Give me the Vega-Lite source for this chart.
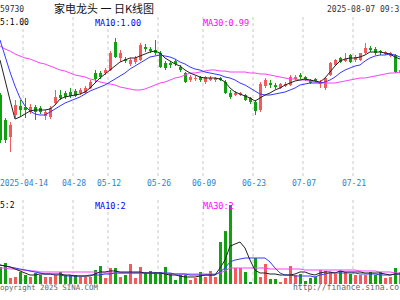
{
"$schema": "https://vega.github.io/schema/vega-lite/v6.json",
"width": 400, "height": 300,
"autosize": {"type": "none"},
"padding": 0,
"background": "#ffffff",
"config": {"view": {"stroke": null}},
"datasets": {
"ticks": [
{"d":"2025-04-14","lab":"2025-04-14"},{"d":"2025-04-28","lab":"04-28"},{"d":"2025-05-12","lab":"05-12"},{"d":"2025-05-26","lab":"05-26"},
{"d":"2025-06-09","lab":"06-09"},{"d":"2025-06-23","lab":"06-23"},{"d":"2025-07-07","lab":"07-07"},{"d":"2025-07-21","lab":"07-21"}
],
"daily": [
{"d":"2025-04-07","o":0.981,"h":0.982,"l":0.957,"c":0.9585,"v":4.05,"m5":0.9985,"m10":1.0085,"m30":1.0055,"vm5":4.52,"vm10":4.52,"vm30":3.81},
{"d":"2025-04-08","o":0.9685,"h":0.9695,"l":0.957,"c":0.9585,"v":5.0,"m5":0.9885,"m10":1.0005,"m30":1.004,"vm5":4.29,"vm10":4.29,"vm30":3.81},
{"d":"2025-04-09","o":0.960,"h":0.9675,"l":0.9525,"c":0.966,"v":1.43,"m5":0.9785,"m10":0.9925,"m30":1.003,"vm5":4.05,"vm10":4.05,"vm30":3.57},
{"d":"2025-04-10","o":0.971,"h":0.9785,"l":0.9695,"c":0.976,"v":1.67,"m5":0.969,"m10":0.9855,"m30":1.0015,"vm5":3.57,"vm10":3.81,"vm30":3.57},
{"d":"2025-04-11","o":0.9755,"h":0.9785,"l":0.970,"c":0.9735,"v":2.86,"m5":0.970,"m10":0.9795,"m30":1.0005,"vm5":3.10,"vm10":3.57,"vm30":3.33},
{"d":"2025-04-14","o":0.975,"h":0.9795,"l":0.9695,"c":0.9735,"v":2.14,"m5":0.9715,"m10":0.9755,"m30":0.9995,"vm5":2.62,"vm10":3.33,"vm30":3.33},
{"d":"2025-04-15","o":0.9725,"h":0.9765,"l":0.9715,"c":0.975,"v":1.67,"m5":0.973,"m10":0.973,"m30":0.999,"vm5":2.14,"vm10":3.10,"vm30":3.10},
{"d":"2025-04-16","o":0.975,"h":0.976,"l":0.9685,"c":0.9725,"v":2.62,"m5":0.9735,"m10":0.9715,"m30":0.998,"vm5":2.14,"vm10":2.86,"vm30":3.10},
{"d":"2025-04-17","o":0.9745,"h":0.9755,"l":0.9715,"c":0.9725,"v":2.14,"m5":0.9735,"m10":0.971,"m30":0.997,"vm5":2.38,"vm10":2.62,"vm30":2.86},
{"d":"2025-04-18","o":0.9705,"h":0.9735,"l":0.9685,"c":0.9725,"v":1.67,"m5":0.9735,"m10":0.971,"m30":0.9965,"vm5":2.38,"vm10":2.38,"vm30":2.86},
{"d":"2025-04-21","o":0.970,"h":0.9755,"l":0.969,"c":0.9745,"v":1.67,"m5":0.974,"m10":0.9725,"m30":0.9955,"vm5":2.38,"vm10":2.38,"vm30":2.86},
{"d":"2025-04-22","o":0.977,"h":0.9835,"l":0.976,"c":0.980,"v":2.14,"m5":0.976,"m10":0.974,"m30":0.9945,"vm5":2.38,"vm10":2.14,"vm30":2.86},
{"d":"2025-04-23","o":0.981,"h":0.9835,"l":0.9785,"c":0.9795,"v":2.86,"m5":0.979,"m10":0.9755,"m30":0.9935,"vm5":2.38,"vm10":2.14,"vm30":2.86},
{"d":"2025-04-24","o":0.982,"h":0.983,"l":0.979,"c":0.980,"v":2.14,"m5":0.980,"m10":0.977,"m30":0.993,"vm5":2.14,"vm10":1.90,"vm30":2.86},
{"d":"2025-04-25","o":0.9825,"h":0.9845,"l":0.9795,"c":0.9805,"v":2.14,"m5":0.9805,"m10":0.978,"m30":0.992,"vm5":2.14,"vm10":1.90,"vm30":2.86},
{"d":"2025-04-28","o":0.983,"h":0.984,"l":0.980,"c":0.9805,"v":2.14,"m5":0.981,"m10":0.979,"m30":0.991,"vm5":1.90,"vm10":1.90,"vm30":2.86},
{"d":"2025-04-29","o":0.982,"h":0.9845,"l":0.981,"c":0.9835,"v":1.67,"m5":0.9815,"m10":0.980,"m30":0.9905,"vm5":1.90,"vm10":1.90,"vm30":2.86},
{"d":"2025-04-30","o":0.982,"h":0.9855,"l":0.9815,"c":0.9845,"v":1.67,"m5":0.9825,"m10":0.9815,"m30":0.990,"vm5":1.90,"vm10":1.90,"vm30":2.86},
{"d":"2025-05-06","o":0.9845,"h":0.9885,"l":0.984,"c":0.9875,"v":1.67,"m5":0.9845,"m10":0.983,"m30":0.989,"vm5":1.90,"vm10":2.14,"vm30":2.86},
{"d":"2025-05-07","o":0.992,"h":0.9935,"l":0.9875,"c":0.989,"v":3.33,"m5":0.987,"m10":0.984,"m30":0.9885,"vm5":2.38,"vm10":2.14,"vm30":2.86},
{"d":"2025-05-08","o":0.992,"h":0.993,"l":0.989,"c":0.990,"v":4.29,"m5":0.9895,"m10":0.985,"m30":0.9875,"vm5":2.86,"vm10":2.14,"vm30":2.62},
{"d":"2025-05-09","o":0.992,"h":0.9945,"l":0.991,"c":0.9935,"v":1.43,"m5":0.9915,"m10":0.986,"m30":0.987,"vm5":2.86,"vm10":2.38,"vm30":2.62},
{"d":"2025-05-12","o":0.9935,"h":1.003,"l":0.993,"c":1.002,"v":3.81,"m5":0.9935,"m10":0.9875,"m30":0.9865,"vm5":3.10,"vm10":2.38,"vm30":2.62},
{"d":"2025-05-13","o":1.0075,"h":1.0095,"l":0.9995,"c":1.000,"v":3.81,"m5":0.9955,"m10":0.989,"m30":0.986,"vm5":3.10,"vm10":2.62,"vm30":2.62},
{"d":"2025-05-14","o":0.9995,"h":1.0035,"l":0.9975,"c":1.002,"v":1.67,"m5":0.9975,"m10":0.9905,"m30":0.985,"vm5":2.86,"vm10":2.62,"vm30":2.62},
{"d":"2025-05-15","o":0.999,"h":1.000,"l":0.997,"c":0.998,"v":2.14,"m5":0.9985,"m10":0.992,"m30":0.9845,"vm5":2.86,"vm10":2.62,"vm30":2.62},
{"d":"2025-05-16","o":0.9965,"h":0.9995,"l":0.9955,"c":0.9985,"v":4.76,"m5":0.9995,"m10":0.994,"m30":0.984,"vm5":2.86,"vm10":2.62,"vm30":2.62},
{"d":"2025-05-19","o":0.9975,"h":1.0005,"l":0.9965,"c":0.9995,"v":1.43,"m5":0.9995,"m10":0.9955,"m30":0.9835,"vm5":2.86,"vm10":2.62,"vm30":2.62},
{"d":"2025-05-20","o":0.9985,"h":1.007,"l":0.998,"c":1.006,"v":4.05,"m5":1.0005,"m10":0.997,"m30":0.9835,"vm5":2.86,"vm10":2.62,"vm30":2.62},
{"d":"2025-05-21","o":1.005,"h":1.0065,"l":1.0025,"c":1.004,"v":2.62,"m5":1.0015,"m10":0.9985,"m30":0.984,"vm5":2.62,"vm10":2.62,"vm30":2.62},
{"d":"2025-05-22","o":1.004,"h":1.005,"l":1.002,"c":1.003,"v":3.10,"m5":1.0025,"m10":1.000,"m30":0.985,"vm5":2.62,"vm10":2.62,"vm30":2.62},
{"d":"2025-05-23","o":1.0035,"h":1.0085,"l":1.001,"c":1.002,"v":2.86,"m5":1.003,"m10":1.0005,"m30":0.986,"vm5":2.62,"vm10":2.62,"vm30":2.62},
{"d":"2025-05-26","o":1.002,"h":1.003,"l":0.9945,"c":0.995,"v":2.86,"m5":1.002,"m10":1.001,"m30":0.987,"vm5":2.62,"vm10":2.62,"vm30":2.62},
{"d":"2025-05-27","o":0.997,"h":0.998,"l":0.9935,"c":0.9945,"v":4.05,"m5":0.9995,"m10":1.0005,"m30":0.9875,"vm5":2.38,"vm10":2.62,"vm30":2.62},
{"d":"2025-05-28","o":0.997,"h":0.998,"l":0.9945,"c":0.996,"v":2.62,"m5":0.998,"m10":1.000,"m30":0.9885,"vm5":2.14,"vm10":2.62,"vm30":2.38},
{"d":"2025-05-29","o":0.998,"h":0.999,"l":0.9955,"c":0.9965,"v":0.95,"m5":0.9965,"m10":0.999,"m30":0.9895,"vm5":2.14,"vm10":2.38,"vm30":2.38},
{"d":"2025-05-30","o":0.995,"h":0.996,"l":0.9925,"c":0.9935,"v":2.14,"m5":0.9955,"m10":0.9975,"m30":0.990,"vm5":1.90,"vm10":2.38,"vm30":2.38},
{"d":"2025-06-03","o":0.992,"h":0.9925,"l":0.987,"c":0.9875,"v":2.14,"m5":0.9935,"m10":0.9965,"m30":0.991,"vm5":1.67,"vm10":2.38,"vm30":2.38},
{"d":"2025-06-04","o":0.9885,"h":0.991,"l":0.9875,"c":0.990,"v":0.95,"m5":0.992,"m10":0.995,"m30":0.992,"vm5":1.67,"vm10":2.14,"vm30":2.38},
{"d":"2025-06-05","o":0.989,"h":0.9905,"l":0.988,"c":0.9895,"v":1.43,"m5":0.991,"m10":0.994,"m30":0.992,"vm5":1.67,"vm10":2.14,"vm30":2.38},
{"d":"2025-06-06","o":0.990,"h":0.9905,"l":0.9875,"c":0.9885,"v":2.86,"m5":0.990,"m10":0.9935,"m30":0.9925,"vm5":1.90,"vm10":2.14,"vm30":2.38},
{"d":"2025-06-09","o":0.9875,"h":0.9905,"l":0.9865,"c":0.990,"v":1.67,"m5":0.9895,"m10":0.9925,"m30":0.993,"vm5":2.14,"vm10":2.14,"vm30":2.38},
{"d":"2025-06-10","o":0.9885,"h":0.9905,"l":0.988,"c":0.9895,"v":3.10,"m5":0.9895,"m10":0.992,"m30":0.9935,"vm5":2.14,"vm10":2.14,"vm30":2.38},
{"d":"2025-06-11","o":0.9885,"h":0.990,"l":0.9875,"c":0.9895,"v":1.67,"m5":0.9895,"m10":0.9915,"m30":0.9935,"vm5":2.14,"vm10":2.14,"vm30":2.38},
{"d":"2025-06-12","o":0.9895,"h":0.990,"l":0.988,"c":0.9885,"v":10.0,"m5":0.989,"m10":0.991,"m30":0.993,"vm5":3.81,"vm10":2.86,"vm30":2.62},
{"d":"2025-06-13","o":0.9875,"h":0.9885,"l":0.9815,"c":0.982,"v":12.6,"m5":0.9875,"m10":0.990,"m30":0.993,"vm5":5.71,"vm10":3.81,"vm30":3.10},
{"d":"2025-06-16","o":0.982,"h":0.9835,"l":0.979,"c":0.980,"v":18.8,"m5":0.9845,"m10":0.9895,"m30":0.9925,"vm5":9.0,"vm10":5.24,"vm30":3.81},
{"d":"2025-06-17","o":0.981,"h":0.983,"l":0.9805,"c":0.982,"v":3.81,"m5":0.9825,"m10":0.9885,"m30":0.9925,"vm5":9.52,"vm10":5.71,"vm30":3.81},
{"d":"2025-06-18","o":0.981,"h":0.9825,"l":0.9805,"c":0.982,"v":3.81,"m5":0.9815,"m10":0.987,"m30":0.9925,"vm5":10.0,"vm10":5.95,"vm30":3.81},
{"d":"2025-06-19","o":0.981,"h":0.9815,"l":0.978,"c":0.9785,"v":2.86,"m5":0.9805,"m10":0.986,"m30":0.9925,"vm5":8.57,"vm10":6.19,"vm30":3.81},
{"d":"2025-06-20","o":0.9795,"h":0.980,"l":0.9765,"c":0.9775,"v":0.48,"m5":0.9795,"m10":0.9845,"m30":0.992,"vm5":5.7,"vm10":6.19,"vm30":3.81},
{"d":"2025-06-23","o":0.9775,"h":0.9785,"l":0.971,"c":0.973,"v":6.19,"m5":0.978,"m10":0.983,"m30":0.992,"vm5":3.3,"vm10":6.19,"vm30":3.81},
{"d":"2025-06-24","o":0.9735,"h":0.9875,"l":0.9725,"c":0.9865,"v":1.67,"m5":0.9795,"m10":0.9815,"m30":0.9915,"vm5":2.62,"vm10":6.19,"vm30":3.81},
{"d":"2025-06-25","o":0.9855,"h":0.9895,"l":0.9845,"c":0.9885,"v":4.76,"m5":0.981,"m10":0.981,"m30":0.9915,"vm5":2.62,"vm10":6.19,"vm30":3.81},
{"d":"2025-06-26","o":0.987,"h":0.9885,"l":0.9845,"c":0.986,"v":1.19,"m5":0.982,"m10":0.981,"m30":0.991,"vm5":2.38,"vm10":5.24,"vm30":3.57},
{"d":"2025-06-27","o":0.986,"h":0.987,"l":0.984,"c":0.985,"v":1.19,"m5":0.9835,"m10":0.9815,"m30":0.9905,"vm5":2.38,"vm10":3.81,"vm30":3.57},
{"d":"2025-06-30","o":0.9845,"h":0.987,"l":0.984,"c":0.9865,"v":0.48,"m5":0.9845,"m10":0.982,"m30":0.990,"vm5":2.14,"vm10":2.62,"vm30":3.57},
{"d":"2025-07-01","o":0.9855,"h":0.9875,"l":0.985,"c":0.9865,"v":1.43,"m5":0.986,"m10":0.9825,"m30":0.9895,"vm5":2.14,"vm10":2.14,"vm30":3.57},
{"d":"2025-07-02","o":0.986,"h":0.991,"l":0.9855,"c":0.990,"v":4.29,"m5":0.987,"m10":0.9835,"m30":0.989,"vm5":2.14,"vm10":2.14,"vm30":3.57},
{"d":"2025-07-03","o":0.989,"h":0.991,"l":0.9885,"c":0.990,"v":2.14,"m5":0.988,"m10":0.9845,"m30":0.989,"vm5":2.38,"vm10":1.90,"vm30":3.57},
{"d":"2025-07-04","o":0.991,"h":0.992,"l":0.989,"c":0.990,"v":2.38,"m5":0.9885,"m10":0.986,"m30":0.9885,"vm5":2.86,"vm10":1.90,"vm30":3.57},
{"d":"2025-07-07","o":0.990,"h":0.9905,"l":0.988,"c":0.9885,"v":0.71,"m5":0.989,"m10":0.9865,"m30":0.9885,"vm5":2.86,"vm10":1.90,"vm30":3.33},
{"d":"2025-07-08","o":0.9885,"h":0.989,"l":0.9865,"c":0.987,"v":1.43,"m5":0.9885,"m10":0.987,"m30":0.988,"vm5":2.38,"vm10":1.90,"vm30":3.33},
{"d":"2025-07-09","o":0.989,"h":0.9895,"l":0.9875,"c":0.988,"v":1.67,"m5":0.988,"m10":0.987,"m30":0.9875,"vm5":2.14,"vm10":1.67,"vm30":3.33},
{"d":"2025-07-10","o":0.9865,"h":0.9885,"l":0.9845,"c":0.9875,"v":3.33,"m5":0.9875,"m10":0.987,"m30":0.987,"vm5":2.62,"vm10":2.14,"vm30":3.33},
{"d":"2025-07-11","o":0.9845,"h":0.990,"l":0.9835,"c":0.9895,"v":3.10,"m5":0.9895,"m10":0.9875,"m30":0.987,"vm5":2.86,"vm10":2.38,"vm30":3.33},
{"d":"2025-07-14","o":0.991,"h":0.9975,"l":0.9905,"c":0.997,"v":2.86,"m5":0.9925,"m10":0.9885,"m30":0.987,"vm5":2.86,"vm10":2.62,"vm30":3.33},
{"d":"2025-07-15","o":0.996,"h":0.999,"l":0.9955,"c":0.9985,"v":2.38,"m5":0.9955,"m10":0.990,"m30":0.987,"vm5":2.62,"vm10":2.62,"vm30":3.33},
{"d":"2025-07-16","o":0.9995,"h":1.000,"l":0.997,"c":0.9975,"v":3.10,"m5":0.998,"m10":0.992,"m30":0.9875,"vm5":3.10,"vm10":2.62,"vm30":3.33},
{"d":"2025-07-17","o":0.998,"h":1.002,"l":0.9975,"c":0.999,"v":2.86,"m5":0.999,"m10":0.9935,"m30":0.988,"vm5":2.86,"vm10":2.62,"vm30":3.33},
{"d":"2025-07-18","o":1.001,"h":1.0015,"l":0.997,"c":0.9975,"v":2.38,"m5":0.9995,"m10":0.9945,"m30":0.9885,"vm5":2.86,"vm10":2.62,"vm30":3.33},
{"d":"2025-07-21","o":0.9985,"h":1.001,"l":0.9975,"c":1.000,"v":2.14,"m5":0.9995,"m10":0.9955,"m30":0.989,"vm5":2.86,"vm10":2.62,"vm30":3.33},
{"d":"2025-07-22","o":0.9985,"h":1.002,"l":0.998,"c":1.002,"v":2.14,"m5":1.000,"m10":0.996,"m30":0.9895,"vm5":2.86,"vm10":2.38,"vm30":3.10},
{"d":"2025-07-23","o":1.002,"h":1.007,"l":1.0015,"c":1.0045,"v":2.14,"m5":1.001,"m10":0.998,"m30":0.9895,"vm5":2.62,"vm10":2.38,"vm30":3.10},
{"d":"2025-07-24","o":1.0045,"h":1.0055,"l":1.0025,"c":1.0035,"v":2.86,"m5":1.0025,"m10":0.9995,"m30":0.990,"vm5":2.62,"vm10":2.38,"vm30":3.10},
{"d":"2025-07-25","o":1.004,"h":1.005,"l":1.001,"c":1.002,"v":2.14,"m5":1.0025,"m10":1.0005,"m30":0.9905,"vm5":2.62,"vm10":2.38,"vm30":3.10},
{"d":"2025-07-28","o":1.003,"h":1.0035,"l":1.001,"c":1.0025,"v":2.86,"m5":1.0025,"m10":1.001,"m30":0.991,"vm5":2.62,"vm10":2.14,"vm30":2.86},
{"d":"2025-07-29","o":1.0015,"h":1.003,"l":1.001,"c":1.0025,"v":1.43,"m5":1.002,"m10":1.001,"m30":0.9915,"vm5":2.38,"vm10":2.14,"vm30":2.86},
{"d":"2025-07-30","o":1.0005,"h":1.0025,"l":1.000,"c":1.002,"v":1.67,"m5":1.0015,"m10":1.0015,"m30":0.992,"vm5":2.14,"vm10":2.14,"vm30":2.86},
{"d":"2025-07-31","o":1.001,"h":1.0015,"l":0.992,"c":0.9925,"v":3.81,"m5":1.000,"m10":1.001,"m30":0.992,"vm5":2.38,"vm10":2.38,"vm30":2.62},
{"d":"2025-08-01","o":0.992,"h":0.9945,"l":0.9915,"c":0.9935,"v":2.86,"m5":0.999,"m10":1.000,"m30":0.9925,"vm5":2.38,"vm10":2.38,"vm30":2.62}
]},
"data": {"name": "daily"},
"resolve": {"scale": {"y": "independent"}},
"layer": [
{
"layer": [
{"data": {"name": "ticks"},
 "mark": {"type": "rule", "color": "#c8c8c8", "strokeDash": [3, 3], "xOffset": -2},
 "encoding": {
  "x": {"field": "d", "type": "ordinal", "scale": {"type": "point", "padding": 0}, "axis": null},
  "y": {"datum": 1.02, "type": "quantitative", "scale": {"domain": [0.8785, 1.0285], "nice": false, "zero": false},
        "axis": {"values": [0.94, 0.96, 0.98, 1.0, 1.02], "labels": false, "ticks": false, "domain": false, "title": null, "grid": true,
                 "gridColor": {"condition": {"test": "datum.value > 1.019 || datum.value < 0.941", "value": "#b4b4b4"}, "value": "#cccccc"},
                 "gridDash": {"condition": {"test": "datum.value > 1.019 || datum.value < 0.941", "value": []}, "value": [2, 2]}}},
  "y2": {"datum": 0.94}
 }},
{"data": {"name": "ticks"},
 "mark": {"type": "text", "align": "center", "baseline": "middle", "dx": -1, "font": "DejaVu Sans Mono", "fontSize": 8, "color": "#2a82d8"},
 "encoding": {
  "x": {"field": "d", "type": "ordinal", "scale": {"type": "point", "padding": 0}, "axis": null},
  "y": {"datum": 0.9365, "type": "quantitative", "scale": {"domain": [0.8785, 1.0285], "nice": false, "zero": false}, "axis": null},
  "text": {"field": "lab"}
 }},
{"mark": {"type": "rule", "xOffset": 0.5},
 "encoding": {
  "x": {"field": "d", "type": "ordinal", "scale": {"type": "point", "padding": 0}, "axis": null},
  "y": {"field": "l", "type": "quantitative", "scale": {"domain": [0.8785, 1.0285], "nice": false, "zero": false}, "axis": null},
  "y2": {"field": "h"},
  "color": {"condition": {"test": "datum.c >= datum.o", "value": "#f55a5a"}, "value": "#10a010"}
 }},
{"mark": {"type": "bar", "width": 3, "xOffset": 0.5},
 "encoding": {
  "x": {"field": "d", "type": "ordinal", "scale": {"type": "point", "padding": 0}, "axis": null},
  "y": {"field": "o", "type": "quantitative", "scale": {"domain": [0.8785, 1.0285], "nice": false, "zero": false}, "axis": null},
  "y2": {"field": "c"},
  "color": {"condition": {"test": "datum.c >= datum.o", "value": "#f55a5a"}, "value": "#10a010"}
 }},
{"mark": {"type": "line", "color": "#ff40ff", "strokeWidth": 1},
 "encoding": {
  "x": {"field": "d", "type": "ordinal", "scale": {"type": "point", "padding": 0}, "axis": null},
  "y": {"field": "m30", "type": "quantitative", "scale": {"domain": [0.8785, 1.0285], "nice": false, "zero": false}, "axis": null}
 }},
{"mark": {"type": "line", "color": "#3838ff", "strokeWidth": 1},
 "encoding": {
  "x": {"field": "d", "type": "ordinal", "scale": {"type": "point", "padding": 0}, "axis": null},
  "y": {"field": "m10", "type": "quantitative", "scale": {"domain": [0.8785, 1.0285], "nice": false, "zero": false}, "axis": null}
 }},
{"mark": {"type": "line", "color": "#222222", "strokeWidth": 1},
 "encoding": {
  "x": {"field": "d", "type": "ordinal", "scale": {"type": "point", "padding": 0}, "axis": null},
  "y": {"field": "m5", "type": "quantitative", "scale": {"domain": [0.8785, 1.0285], "nice": false, "zero": false}, "axis": null}
 }},
{"data": {"values": [{}]},
 "mark": {"type": "text", "text": "59730", "align": "left", "baseline": "middle", "font": "DejaVu Sans Mono", "fontSize": 8, "color": "#333333"},
 "encoding": {"x": {"datum": "2025-04-07", "type": "ordinal", "scale": {"type": "point", "padding": 0}, "axis": null},
              "y": {"datum": 1.0235, "type": "quantitative", "scale": {"domain": [0.8785, 1.0285], "nice": false, "zero": false}, "axis": null}}},
{"data": {"values": [{}]},
 "mark": {"type": "text", "text": "家电龙头 一 日K线图", "align": "center", "baseline": "middle", "dx": -1, "font": "Noto Sans CJK SC", "fontSize": 11, "color": "#111111"},
 "encoding": {"x": {"datum": "2025-05-09", "type": "ordinal", "scale": {"type": "point", "padding": 0}, "axis": null},
              "y": {"datum": 1.0235, "type": "quantitative", "scale": {"domain": [0.8785, 1.0285], "nice": false, "zero": false}, "axis": null}}},
{"data": {"values": [{}]},
 "mark": {"type": "text", "text": "2025-08-07 09:3", "align": "left", "baseline": "middle", "dx": -3, "font": "DejaVu Sans Mono", "fontSize": 8, "color": "#333333"},
 "encoding": {"x": {"datum": "2025-07-14", "type": "ordinal", "scale": {"type": "point", "padding": 0}, "axis": null},
              "y": {"datum": 1.0235, "type": "quantitative", "scale": {"domain": [0.8785, 1.0285], "nice": false, "zero": false}, "axis": null}}},
{"data": {"values": [{}]},
 "mark": {"type": "text", "text": "5:1.00", "align": "left", "baseline": "middle", "font": "DejaVu Sans Mono", "fontSize": 8, "color": "#000000"},
 "encoding": {"x": {"datum": "2025-04-07", "type": "ordinal", "scale": {"type": "point", "padding": 0}, "axis": null},
              "y": {"datum": 1.017, "type": "quantitative", "scale": {"domain": [0.8785, 1.0285], "nice": false, "zero": false}, "axis": null}}},
{"data": {"values": [{}]},
 "mark": {"type": "text", "text": "MA10:1.00", "align": "left", "baseline": "middle", "font": "DejaVu Sans Mono", "fontSize": 8.5, "color": "#0000ff"},
 "encoding": {"x": {"datum": "2025-05-07", "type": "ordinal", "scale": {"type": "point", "padding": 0}, "axis": null},
              "y": {"datum": 1.017, "type": "quantitative", "scale": {"domain": [0.8785, 1.0285], "nice": false, "zero": false}, "axis": null}}},
{"data": {"values": [{}]},
 "mark": {"type": "text", "text": "MA30:0.99", "align": "left", "baseline": "middle", "dx": -2, "font": "DejaVu Sans Mono", "fontSize": 8.5, "color": "#ff00ff"},
 "encoding": {"x": {"datum": "2025-06-09", "type": "ordinal", "scale": {"type": "point", "padding": 0}, "axis": null},
              "y": {"datum": 1.017, "type": "quantitative", "scale": {"domain": [0.8785, 1.0285], "nice": false, "zero": false}, "axis": null}}}
]
},
{
"layer": [
{"data": {"name": "ticks"},
 "mark": {"type": "rule", "color": "#c8c8c8", "strokeDash": [3, 3], "xOffset": -2},
 "encoding": {
  "x": {"field": "d", "type": "ordinal", "scale": {"type": "point", "padding": 0}, "axis": null},
  "y": {"datum": 20, "type": "quantitative", "scale": {"domain": [-3.8095, 67.619], "nice": false, "zero": false},
        "axis": {"values": [0, 4, 8, 12, 16, 20], "labels": false, "ticks": false, "domain": false, "title": null, "grid": true,
                 "gridColor": {"condition": {"test": "datum.value > 19 || datum.value < 1", "value": "#b4b4b4"}, "value": "#cccccc"},
                 "gridDash": {"condition": {"test": "datum.value > 19 || datum.value < 1", "value": []}, "value": [2, 2]}}},
  "y2": {"datum": 0}
 }},
{"mark": {"type": "bar", "width": 3, "xOffset": 0.5},
 "encoding": {
  "x": {"field": "d", "type": "ordinal", "scale": {"type": "point", "padding": 0}, "axis": null},
  "y": {"field": "v", "type": "quantitative", "scale": {"domain": [-3.8095, 67.619], "nice": false, "zero": false}, "axis": null},
  "y2": {"datum": 0},
  "color": {"condition": {"test": "datum.c >= datum.o", "value": "#f55a5a"}, "value": "#10a010"}
 }},
{"mark": {"type": "line", "color": "#ff40ff", "strokeWidth": 1},
 "encoding": {
  "x": {"field": "d", "type": "ordinal", "scale": {"type": "point", "padding": 0}, "axis": null},
  "y": {"field": "vm30", "type": "quantitative", "scale": {"domain": [-3.8095, 67.619], "nice": false, "zero": false}, "axis": null}
 }},
{"mark": {"type": "line", "color": "#3838ff", "strokeWidth": 1},
 "encoding": {
  "x": {"field": "d", "type": "ordinal", "scale": {"type": "point", "padding": 0}, "axis": null},
  "y": {"field": "vm10", "type": "quantitative", "scale": {"domain": [-3.8095, 67.619], "nice": false, "zero": false}, "axis": null}
 }},
{"mark": {"type": "line", "color": "#222222", "strokeWidth": 1},
 "encoding": {
  "x": {"field": "d", "type": "ordinal", "scale": {"type": "point", "padding": 0}, "axis": null},
  "y": {"field": "vm5", "type": "quantitative", "scale": {"domain": [-3.8095, 67.619], "nice": false, "zero": false}, "axis": null}
 }},
{"data": {"values": [{}]},
 "mark": {"type": "text", "text": "5:2", "align": "left", "baseline": "middle", "font": "DejaVu Sans Mono", "fontSize": 8, "color": "#000000"},
 "encoding": {"x": {"datum": "2025-04-07", "type": "ordinal", "scale": {"type": "point", "padding": 0}, "axis": null},
              "y": {"datum": 18.69, "type": "quantitative", "scale": {"domain": [-3.8095, 67.619], "nice": false, "zero": false}, "axis": null}}},
{"data": {"values": [{}]},
 "mark": {"type": "text", "text": "MA10:2", "align": "left", "baseline": "middle", "font": "DejaVu Sans Mono", "fontSize": 8.5, "color": "#0000ff"},
 "encoding": {"x": {"datum": "2025-05-07", "type": "ordinal", "scale": {"type": "point", "padding": 0}, "axis": null},
              "y": {"datum": 18.69, "type": "quantitative", "scale": {"domain": [-3.8095, 67.619], "nice": false, "zero": false}, "axis": null}}},
{"data": {"values": [{}]},
 "mark": {"type": "text", "text": "MA30:2", "align": "left", "baseline": "middle", "dx": -2, "font": "DejaVu Sans Mono", "fontSize": 8.5, "color": "#ff00ff"},
 "encoding": {"x": {"datum": "2025-06-09", "type": "ordinal", "scale": {"type": "point", "padding": 0}, "axis": null},
              "y": {"datum": 18.69, "type": "quantitative", "scale": {"domain": [-3.8095, 67.619], "nice": false, "zero": false}, "axis": null}}},
{"data": {"values": [{}]},
 "mark": {"type": "text", "text": "opyright 2025 SINA.COM", "align": "left", "baseline": "middle", "font": "DejaVu Sans Mono", "fontSize": 7.4, "color": "#666666"},
 "encoding": {"x": {"datum": "2025-04-07", "type": "ordinal", "scale": {"type": "point", "padding": 0}, "axis": null},
              "y": {"datum": -0.95, "type": "quantitative", "scale": {"domain": [-3.8095, 67.619], "nice": false, "zero": false}, "axis": null}}},
{"data": {"values": [{}]},
 "mark": {"type": "text", "text": "http://finance.sina.co", "align": "left", "baseline": "middle", "dx": -2, "font": "DejaVu Sans Mono", "fontSize": 8, "color": "#666666"},
 "encoding": {"x": {"datum": "2025-07-03", "type": "ordinal", "scale": {"type": "point", "padding": 0}, "axis": null},
              "y": {"datum": -0.95, "type": "quantitative", "scale": {"domain": [-3.8095, 67.619], "nice": false, "zero": false}, "axis": null}}}
]
}
]
}
